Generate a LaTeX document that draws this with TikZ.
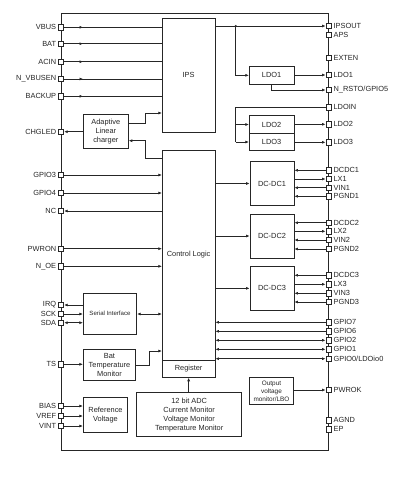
\documentclass[tikz,border=0pt]{standalone}
\usepackage{fontspec}
\setmainfont{Liberation Sans}
\usetikzlibrary{arrows.meta,decorations.markings}
\newcommand\mylpin[3]{\node[pinbox] (#1) at (61,#2) {}; \node[lbl,left] (#1l) at (#1.west) {#3};}
\newcommand\myrpin[3]{\node[pinbox] (#1) at (328.7,#2) {}; \node[lbl,right] (#1l) at (#1.east) {#3};}
\begin{document}
\begin{tikzpicture}[x=1pt,y=-1pt,
  every node/.style={text=black!85},
  lbl/.style={font=\fontsize{7.4}{9}\selectfont, inner sep=1.6pt},
  line/.style={draw=black!85, line width=0.7pt},
  pinbox/.style={draw=black!85, fill=white, line width=0.7pt, minimum size=5.5pt, inner sep=0pt, rectangle},
  blk/.style={draw=black!85, line width=0.7pt, align=center, inner sep=0pt, font=\fontsize{7.4}{9}\selectfont},
  tip/.style={-{Latex[length=3.6pt,width=3pt]}},
  dtip/.style={{Latex[length=3.6pt,width=3pt]}-{Latex[length=3.6pt,width=3pt]}},
  midtip/.style={postaction={decorate},decoration={markings,mark=at position 19pt with {\arrow{Latex[length=3.6pt,width=3pt]}}}}
]
\fill[white] (0,0) rectangle (402,480);
\useasboundingbox (0,0) rectangle (402,480);

% frame
\draw[line, line width=0.9pt] (61,13) rectangle (328.7,450);

% blocks
\node[blk, minimum width=52.7pt, minimum height=114.3pt] (IPS) at (188.65,75.15) {IPS};
\node[blk, minimum width=52.7pt, minimum height=210pt] (CL) at (188.65,255) {Control Logic};
\node[blk, minimum width=52.7pt, minimum height=17.3pt] (Reg) at (188.65,368.65) {Register};
\node[blk, minimum width=45pt, minimum height=34.4pt] (chg) at (105.8,131.5) {Adaptive\\Linear\\charger};
\node[blk, minimum width=53.4pt, minimum height=41pt, font=\fontsize{6.1}{8}\selectfont] (ser) at (110,313.8) {Serial Interface};
\node[blk, minimum width=52.4pt, minimum height=31pt] (bat) at (109.5,364.8) {Bat\\Temperature\\Monitor};
\node[blk, minimum width=44.4pt, minimum height=35pt] (ref) at (105.5,414.8) {Reference\\Voltage};
\node[blk, minimum width=105pt, minimum height=44pt] (ADC) at (189.2,414.7) {12 bit ADC\\Current Monitor\\Voltage Monitor\\Temperature Monitor};
\node[blk, minimum width=44.7pt, minimum height=17.3pt] (LDO1) at (271.65,75.35) {LDO1};
\node[blk, minimum width=44.7pt, minimum height=17.6pt] (LDO2) at (271.65,124.5) {LDO2};
\node[blk, minimum width=44.7pt, minimum height=17.4pt] (LDO3) at (271.65,142) {LDO3};
\node[blk, minimum width=44pt, minimum height=43.6pt] (DC1) at (272,183.5) {DC-DC1};
\node[blk, minimum width=44pt, minimum height=44pt] (DC2) at (272,236) {DC-DC2};
\node[blk, minimum width=44pt, minimum height=43.3pt] (DC3) at (272,288.35) {DC-DC3};
\node[blk, minimum width=44.4pt, minimum height=26.3pt, font=\fontsize{6.4}{8}\selectfont] (ovm) at (271.5,390.85) {Output\\voltage\\monitor/LBO};

% left pins
\mylpin{pVBUS}{27.3}{VBUS}
\mylpin{pBAT}{43.7}{BAT}
\mylpin{pACIN}{61.7}{ACIN}
\mylpin{pNVB}{79}{N\_VBUSEN}
\mylpin{pBACKUP}{96.3}{BACKUP}
\mylpin{pCHGLED}{131.7}{CHGLED}
\mylpin{pGPIO3}{175}{GPIO3}
\mylpin{pGPIO4}{193}{GPIO4}
\mylpin{pNC}{211}{NC}
\mylpin{pPWRON}{248.7}{PWRON}
\mylpin{pNOE}{266.3}{N\_OE}
\mylpin{pIRQ}{305}{IRQ}
\mylpin{pSCK}{314}{SCK}
\mylpin{pSDA}{322.7}{SDA}
\mylpin{pTS}{364.3}{TS}
\mylpin{pBIAS}{406}{BIAS}
\mylpin{pVREF}{416}{VREF}
\mylpin{pVINT}{426}{VINT}

% right pins
\myrpin{pIPSOUT}{26}{IPSOUT}
\myrpin{pAPS}{35}{APS}
\myrpin{pEXTEN}{57.7}{EXTEN}
\myrpin{pLDO1}{75}{LDO1}
\myrpin{pNRSTO}{90}{N\_RSTO/GPIO5}
\myrpin{pLDOIN}{107.3}{LDOIN}
\myrpin{pLDO2}{124.3}{LDO2}
\myrpin{pLDO3}{142.3}{LDO3}
\myrpin{pDCDC1}{170.3}{DCDC1}
\myrpin{pLX1}{179}{LX1}
\myrpin{pVIN1}{187.7}{VIN1}
\myrpin{pPGND1}{196.3}{PGND1}
\myrpin{pDCDC2}{222.7}{DCDC2}
\myrpin{pLX2}{231.3}{LX2}
\myrpin{pVIN2}{240}{VIN2}
\myrpin{pPGND2}{249}{PGND2}
\myrpin{pDCDC3}{275.3}{DCDC3}
\myrpin{pLX3}{284.3}{LX3}
\myrpin{pVIN3}{293.3}{VIN3}
\myrpin{pPGND3}{302}{PGND3}
\myrpin{pGPIO7}{322.3}{GPIO7}
\myrpin{pGPIO6}{331.3}{GPIO6}
\myrpin{pGPIO2}{340.3}{GPIO2}
\myrpin{pGPIO1}{349.3}{GPIO1}
\myrpin{pGPIO0}{358.7}{GPIO0/LDOio0}
\myrpin{pPWROK}{390}{PWROK}
\myrpin{pAGND}{420.3}{AGND}
\myrpin{pEP}{429.3}{EP}

% left connections
\foreach \p in {pVBUS,pBAT,pACIN,pNVB,pBACKUP}
  \draw[line,midtip] (\p) -- (\p -| IPS.west);
\draw[line,tip] (chg.west |- pCHGLED) -- (pCHGLED);
\draw[line,tip] (chg.east |- 0,123) -- (145,123) -- (145,113) -- (IPS.west |- 0,113);
\draw[line,tip] (CL.west |- 0,158) -- (145,158) -- (145,140.7) -- (chg.east |- 0,140.7);
\foreach \p in {pGPIO3,pGPIO4,pPWRON,pNOE}
  \draw[line,tip] (\p) -- (\p -| CL.west);
\draw[line,tip] (pNC -| CL.west) -- (pNC);
\draw[line,tip] (pIRQ -| ser.west) -- (pIRQ);
\draw[line,tip] (pSCK) -- (pSCK -| ser.west);
\draw[line,dtip] (pSDA) -- (pSDA -| ser.west);
\draw[line,dtip] (ser.east |- pSCK) -- (CL.west |- pSCK);
\draw[line,tip] (pTS) -- (pTS -| bat.west);
\draw[line,tip] (bat.east |- 0,365.7) -- (149,365.7) -- (149,351) -- (CL.west |- 0,351);
\foreach \p in {pBIAS,pVREF,pVINT}
  \draw[line,tip] (\p) -- (\p -| ref.west);
\draw[line,tip] (ADC.north -| Reg.south) -- (Reg.south);

% right connections
\coordinate (j1) at (235.7,26);
\coordinate (j2) at (235.7,107.3);
\draw[line,tip] (IPS.east |- pIPSOUT) -- (pIPSOUT);
\fill[black!85] (j1) circle (1.1pt);
\draw[line,tip] (j1) |- (LDO1.west);
\draw[line,tip] (LDO1.east |- pLDO1) -- (pLDO1);
\draw[line,tip] (LDO1.south) |- (pNRSTO);
\draw[line] (pLDOIN) -- (j2) -- (j2 |- LDO3.west);
\draw[line,tip] (j2 |- LDO2.west) -- (LDO2.west);
\draw[line,tip] (j2 |- LDO3.west) -- (LDO3.west);
\draw[line,tip] (LDO2.east |- pLDO2) -- (pLDO2);
\draw[line,tip] (LDO3.east |- pLDO3) -- (pLDO3);

\foreach \d in {DC1,DC2,DC3}
  \draw[line,tip] (CL.east |- \d.west) -- (\d.west);
\foreach \p/\d in {pDCDC1/DC1,pVIN1/DC1,pPGND1/DC1,pDCDC2/DC2,pVIN2/DC2,pPGND2/DC2,pDCDC3/DC3,pVIN3/DC3,pPGND3/DC3}
  \draw[line,tip] (\p) -- (\p -| \d.east);
\foreach \p/\d in {pLX1/DC1,pLX2/DC2,pLX3/DC3}
  \draw[line,tip] (\p -| \d.east) -- (\p);

\foreach \p in {pGPIO7,pGPIO6}
  \draw[line,tip] (\p) -- (\p -| CL.east);
\foreach \p in {pGPIO2,pGPIO1,pGPIO0}
  \draw[line,dtip] (\p) -- (\p -| CL.east);
\draw[line,tip] (ovm.east |- pPWROK) -- (pPWROK);
\end{tikzpicture}
\end{document}
